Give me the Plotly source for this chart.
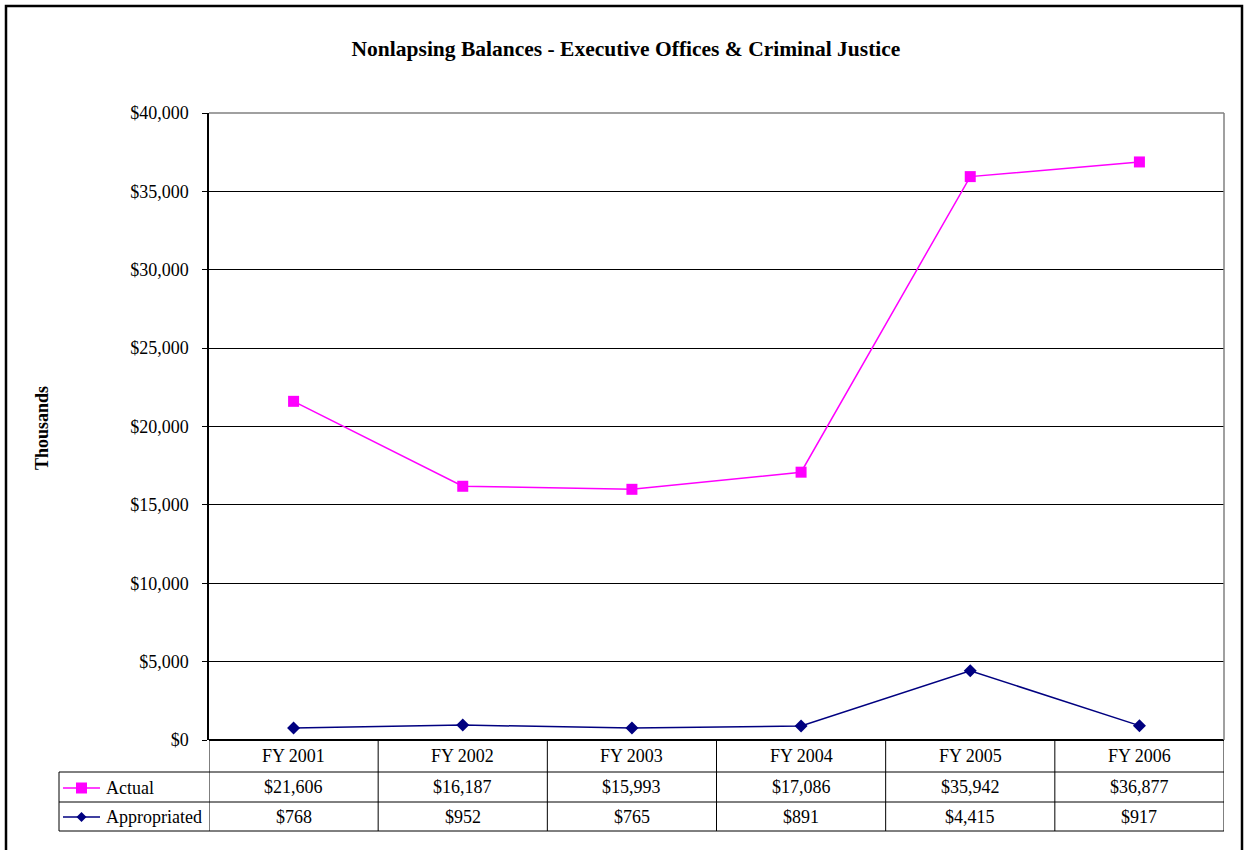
import plotly.graph_objects as go

categories = ["FY 2001", "FY 2002", "FY 2003", "FY 2004", "FY 2005", "FY 2006"]
actual = [21606, 16187, 15993, 17086, 35942, 36877]
appropriated = [768, 952, 765, 891, 4415, 917]
y_ticks = [0, 5000, 10000, 15000, 20000, 25000, 30000, 35000, 40000]

W, H = 1246, 850
L, R, T, B = 209, 1224, 113, 740  # plot area in pixels
FONT = "Liberation Serif, Times New Roman, serif"
MAGENTA = "#FF00FF"
NAVY = "#000080"
TXT = 18


def px(x):
    return (x - L) / (R - L)


def py(y):
    return (B - y) / (B - T)


def money(v):
    return "${:,.0f}".format(v)


xs = list(range(len(categories)))

fig = go.Figure()
fig.add_trace(go.Scatter(
    x=xs, y=actual, name="Actual", mode="lines+markers",
    line=dict(color=MAGENTA, width=1.5),
    marker=dict(symbol="square", size=11, color=MAGENTA),
    cliponaxis=False,
))
fig.add_trace(go.Scatter(
    x=xs, y=appropriated, name="Appropriated", mode="lines+markers",
    line=dict(color=NAVY, width=1.5),
    marker=dict(symbol="diamond", size=10, color=NAVY),
    cliponaxis=False,
))

shapes = []
annotations = []

# outer chart frame
shapes.append(dict(type="rect", xref="paper", yref="paper",
                   x0=px(6), x1=px(1242), y0=py(860), y1=py(6),
                   line=dict(color="black", width=2.5), layer="below"))
# top and right border of plot area
shapes.append(dict(type="line", xref="paper", yref="paper",
                   x0=0, x1=1, y0=1, y1=1, line=dict(color="#808080", width=1.5)))
shapes.append(dict(type="line", xref="paper", yref="paper",
                   x0=1, x1=1, y0=0, y1=1, line=dict(color="#808080", width=1.5)))

# data table beneath the axis
row_y = [740, 772, 802, 831]
tbl_line = dict(color="black", width=1)
for i in range(len(categories) + 1):
    shapes.append(dict(type="line", xref="x", yref="paper",
                       x0=i - 0.5, x1=i - 0.5, y0=py(row_y[0]), y1=py(row_y[3]),
                       line=tbl_line))
shapes.append(dict(type="line", xref="paper", yref="paper",
                   x0=px(59), x1=px(59), y0=py(row_y[1]), y1=py(row_y[3]), line=tbl_line))
for yy in row_y[1:]:
    shapes.append(dict(type="line", xref="paper", yref="paper",
                       x0=px(59), x1=1, y0=py(yy), y1=py(yy), line=tbl_line))

cell_font = dict(family=FONT, size=TXT, color="black")


def cell(x, y, text, xref="x", xanchor="center"):
    annotations.append(dict(x=x, y=y, xref=xref, yref="paper", text=text,
                            showarrow=False, xanchor=xanchor, yanchor="middle",
                            font=cell_font))


for i, c in enumerate(categories):
    cell(i, py((row_y[0] + row_y[1]) / 2), c)
    cell(i, py((row_y[1] + row_y[2]) / 2), money(actual[i]))
    cell(i, py((row_y[2] + row_y[3]) / 2), money(appropriated[i]))

# legend keys inside the table
for name, color, yc, kind in [("Actual", MAGENTA, 788, "square"),
                              ("Appropriated", NAVY, 817, "diamond")]:
    shapes.append(dict(type="line", xref="paper", yref="paper",
                       x0=px(63), x1=px(100), y0=py(yc), y1=py(yc),
                       line=dict(color=color, width=1.5)))
    if kind == "square":
        shapes.append(dict(type="rect", xref="paper", yref="paper",
                           x0=px(76), x1=px(87), y0=py(yc + 5.5), y1=py(yc - 5.5),
                           fillcolor=color, line=dict(color=color, width=0)))
    else:
        xc = 81.5
        path = "M {a},{b} L {c},{d} L {a},{e} L {f},{d} Z".format(
            a=px(xc), b=py(yc - 5), c=px(xc + 5), d=py(yc), e=py(yc + 5), f=px(xc - 5))
        shapes.append(dict(type="path", xref="paper", yref="paper", path=path,
                           fillcolor=color, line=dict(color=color, width=0)))
    cell(px(104), py(yc), name, xref="paper", xanchor="left")

# y-axis title
annotations.append(dict(x=px(42), y=py(428), xref="paper", yref="paper",
                        text="<b>Thousands</b>", showarrow=False, textangle=-90,
                        xanchor="center", yanchor="middle",
                        font=dict(family=FONT, size=TXT, color="black")))

fig.update_layout(
    width=W, height=H,
    margin=dict(l=L, r=W - R, t=T, b=H - B),
    paper_bgcolor="white", plot_bgcolor="white",
    showlegend=False,
    title=dict(text="<b>Nonlapsing Balances - Executive Offices & Criminal Justice</b>",
               x=px(626), xref="paper", xanchor="center",
               y=1 - 48 / H, yanchor="middle",
               font=dict(family=FONT, size=21.5, color="black")),
    xaxis=dict(range=[-0.5, len(categories) - 0.5], showticklabels=False,
               showgrid=False, zeroline=False, showline=False, ticks=""),
    yaxis=dict(range=[0, 40000], tickvals=y_ticks,
               ticktext=[money(v) for v in y_ticks],
               showgrid=True, gridcolor="black", gridwidth=1,
               zeroline=True, zerolinecolor="black", zerolinewidth=1.5,
               showline=True, linecolor="black", linewidth=1.5,
               ticks="outside", ticklen=5, tickcolor="black",
               ticklabelstandoff=10,
               tickfont=dict(family=FONT, size=TXT, color="black")),
    shapes=shapes, annotations=annotations,
)

fig.write_html("out.html")
